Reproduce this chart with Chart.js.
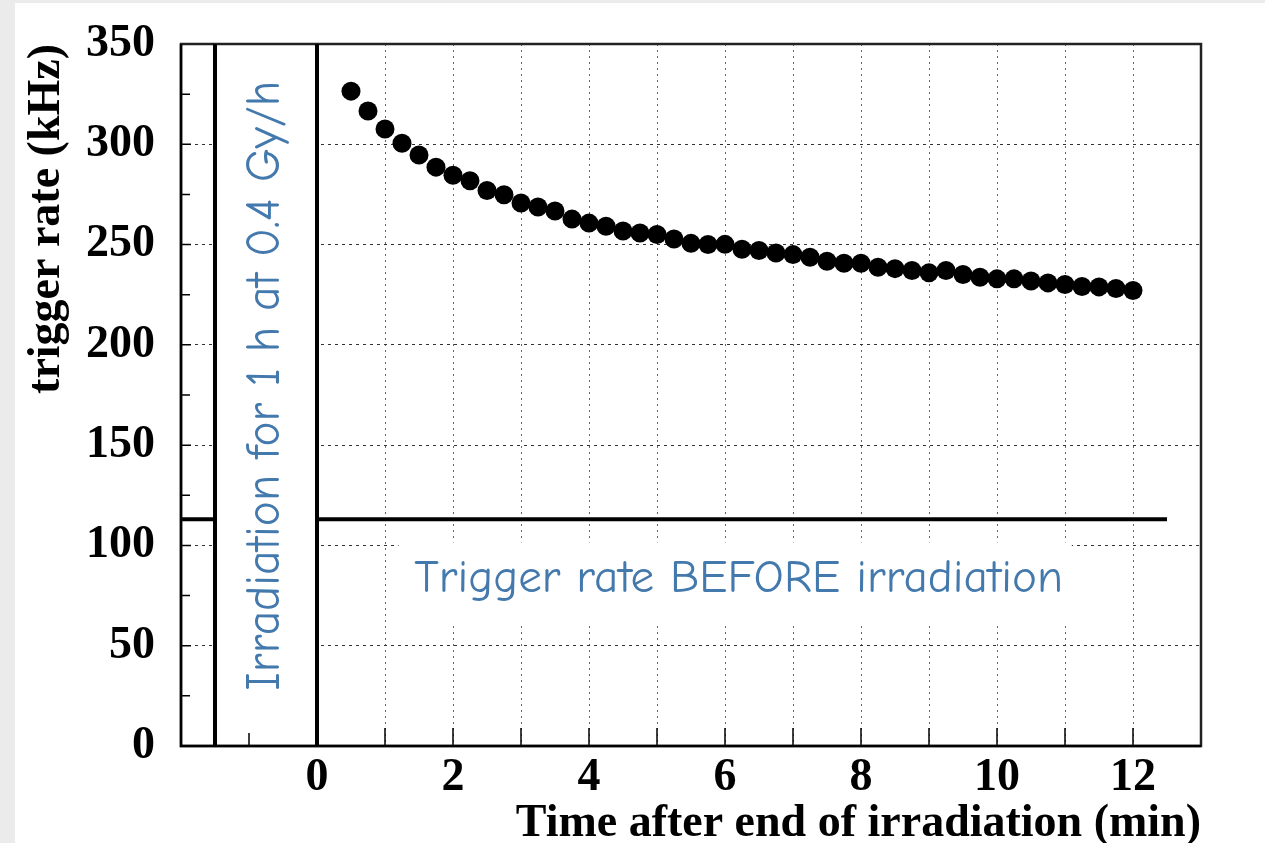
<!DOCTYPE html>
<html>
<head>
<meta charset="utf-8">
<script src="https://cdn.jsdelivr.net/npm/chart.js@4.4.1/dist/chart.umd.min.js"></script>
<style>
html, body { margin: 0; padding: 0; background: #ebebeb; overflow: hidden; }
#wrap { position: absolute; left: 15px; top: 3px; width: 1250px; height: 840px; background: #fff; }
</style>
</head>
<body>
<div id="wrap"><canvas id="myChart"></canvas></div>
<script>
// time after end of irradiation (min)
var timeMin = [0.5, 0.75, 1, 1.25, 1.5, 1.75, 2, 2.25, 2.5, 2.75,
               3, 3.25, 3.5, 3.75, 4, 4.25, 4.5, 4.75, 5, 5.25,
               5.5, 5.75, 6, 6.25, 6.5, 6.75, 7, 7.25, 7.5, 7.75,
               8, 8.25, 8.5, 8.75, 9, 9.25, 9.5, 9.75, 10, 10.25,
               10.5, 10.75, 11, 11.25, 11.5, 11.75, 12];
// trigger rate (kHz)
var rateKHz = [326.5, 316.6, 307.6, 300.5, 294.7, 288.6, 284.6, 281.8, 277.0, 274.8,
               270.7, 268.7, 266.7, 262.7, 260.7, 259.1, 256.8, 255.8, 255.0, 252.8,
               250.6, 250.0, 250.1, 247.7, 247.0, 245.8, 245.0, 243.7, 241.7, 240.7,
               240.7, 238.7, 238.0, 237.1, 235.9, 237.1, 235.1, 233.7, 232.9, 232.9,
               231.8, 230.9, 230.1, 229.1, 228.9, 228.1, 227.1];

var xLabels = [0, 2, 4, 6, 8, 10, 12];
var yMinorTicks = [25, 50, 75, 100, 125, 150, 175, 200, 225, 250, 275, 300, 325];
var xMinorTicks = [-1, 0, 1, 2, 3, 4, 5, 6, 7, 8, 9, 10, 11, 12];

var rateBefore = 113;        // kHz, level before irradiation
var rateBeforeEnd = 12.5;    // where that line stops
var irradStart = -1.5, irradEnd = 0;

var irradText = 'Irradiation for 1 h at 0.4 Gy/h';
var beforeText = 'Trigger rate BEFORE irradiation';

var serif = '"Liberation Serif", "Times New Roman", serif';
var comic = '"Comic Sans MS", "Comic Neue", "Noto Sans", sans-serif';
var blue = '#4379ac';

function fitFont(ctx, text, width) {
    ctx.font = '100px ' + comic;
    return 100 * width / ctx.measureText(text).width;
}

var overlay = {
    id: 'overlay',
    beforeDatasetsDraw: function (chart) {
        var ctx = chart.ctx, a = chart.chartArea;
        var xs = chart.scales.x, ys = chart.scales.y;
        ctx.save();

        // level before irradiation
        ctx.strokeStyle = '#000';
        ctx.lineWidth = 4;
        ctx.beginPath();
        ctx.moveTo(a.left, ys.getPixelForValue(rateBefore));
        ctx.lineTo(xs.getPixelForValue(rateBeforeEnd), ys.getPixelForValue(rateBefore));
        ctx.stroke();

        // white band for the irradiation period
        var x0 = xs.getPixelForValue(irradStart), x1 = xs.getPixelForValue(irradEnd);
        ctx.fillStyle = '#fff';
        ctx.fillRect(x0, a.top, x1 - x0, a.bottom - a.top);

        // white box behind the label
        var bx0 = xs.getPixelForValue(1.2), bx1 = xs.getPixelForValue(11.1);
        var by0 = ys.getPixelForValue(101.5), by1 = ys.getPixelForValue(61.5);
        ctx.fillRect(bx0, by0, bx1 - bx0, by1 - by0);

        // tick marks inside the frame
        ctx.strokeStyle = '#000';
        ctx.lineWidth = 1.5;
        ctx.beginPath();
        yMinorTicks.forEach(function (v) {
            var y = ys.getPixelForValue(v);
            ctx.moveTo(a.left, y);
            ctx.lineTo(a.left + (v % 50 === 0 ? 10 : 9), y);
        });
        xMinorTicks.forEach(function (v) {
            var x = xs.getPixelForValue(v);
            ctx.moveTo(x, a.bottom);
            ctx.lineTo(x, a.bottom - (v === -1 ? 13 : 18));
        });
        ctx.stroke();

        // frame
        ctx.lineWidth = 2.5;
        ctx.strokeStyle = '#222';
        ctx.strokeRect(a.left, a.top, a.right - a.left, a.bottom - a.top);
        ctx.strokeStyle = '#000';
        ctx.beginPath();
        ctx.moveTo(a.left, a.top);
        ctx.lineTo(a.left, a.bottom);
        ctx.lineTo(a.right, a.bottom);
        ctx.stroke();

        // irradiation period limits
        ctx.lineWidth = 4;
        ctx.beginPath();
        ctx.moveTo(x0, a.top); ctx.lineTo(x0, a.bottom);
        ctx.moveTo(x1, a.top); ctx.lineTo(x1, a.bottom);
        ctx.stroke();

        // labels
        ctx.fillStyle = blue;
        ctx.textAlign = 'center';
        ctx.textBaseline = 'middle';
        var s1 = fitFont(ctx, beforeText, 649);
        ctx.font = s1 + 'px ' + comic;
        ctx.fillText(beforeText, xs.getPixelForValue(6.2), ys.getPixelForValue(83.6));

        var s2 = fitFont(ctx, irradText, 610);
        ctx.font = s2 + 'px ' + comic;
        ctx.translate(xs.getPixelForValue(-0.76), ys.getPixelForValue(179.6));
        ctx.rotate(-Math.PI / 2);
        ctx.fillText(irradText, 0, 0);
        ctx.restore();
    }
};

var points = timeMin.map(function (t, i) { return { x: t, y: rateKHz[i] }; });

var ctx = document.getElementById('myChart').getContext('2d');
var chart = new Chart(ctx, {
    type: 'scatter',
    data: {
        datasets: [{
            label: 'trigger rate',
            data: points,
            pointRadius: 9.5,
            pointHoverRadius: 9.5,
            backgroundColor: '#000',
            borderWidth: 0
        }]
    },
    options: {
        responsive: true,
        maintainAspectRatio: false,
        animation: false,
        events: [],
        layout: { padding: { top: 41, right: 64, left: 0, bottom: 0 } },
        plugins: { legend: { display: false }, tooltip: { enabled: false } },
        scales: {
            x: {
                type: 'linear',
                min: -2,
                max: 13,
                afterFit: function (s) { s.height = 97; },
                ticks: {
                    stepSize: 1,
                    autoSkip: false,
                    maxRotation: 0,
                    padding: 5,
                    color: '#000',
                    font: { family: serif, size: 46, weight: 'bold' },
                    callback: function (v) { return xLabels.indexOf(v) >= 0 ? String(v) : ''; }
                },
                grid: {
                    drawTicks: false,
                    lineWidth: 1,
                    color: function (c) {
                        var v = c.tick ? c.tick.value : null;
                        return (v === -2 || v === 13) ? 'rgba(0,0,0,0)' : '#666';
                    }
                },
                border: { display: false, dash: [2, 4] },
                title: {
                    display: true,
                    text: 'Time after end of irradiation (min)',
                    align: 'end',
                    color: '#000',
                    font: { family: serif, size: 46, weight: 'bold', lineHeight: 0.8 },
                    padding: { top: 0, bottom: 0 }
                }
            },
            y: {
                min: 0,
                max: 350,
                afterFit: function (s) { s.width = 166; },
                ticks: {
                    stepSize: 50,
                    padding: 26,
                    color: '#000',
                    font: { family: serif, size: 46, weight: 'bold', lineHeight: 0.5 }
                },
                grid: {
                    drawTicks: false,
                    lineWidth: 1,
                    color: function (c) {
                        var v = c.tick ? c.tick.value : null;
                        return (v === 0 || v === 350) ? 'rgba(0,0,0,0)' : '#333';
                    }
                },
                border: { display: false, dash: [3, 4] },
                title: {
                    display: true,
                    text: 'trigger rate (kHz)',
                    align: 'end',
                    color: '#000',
                    font: { family: serif, size: 46, weight: 'bold' },
                    padding: { top: 5, bottom: 0 }
                }
            }
        }
    },
    plugins: [overlay]
});
</script>
</body>
</html>
